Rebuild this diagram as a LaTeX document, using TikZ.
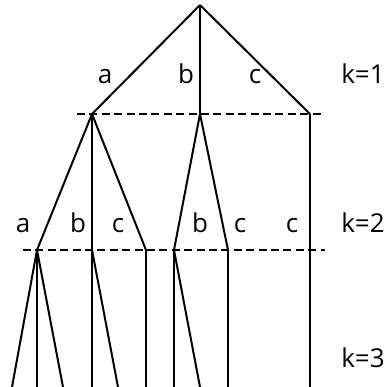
\documentclass[tikz,border=0pt]{standalone}
\usepackage{fontspec}
\setmainfont{Open Sans}
\usetikzlibrary{positioning,calc}

\begin{document}
\begin{tikzpicture}[x=0.5pt,y=-0.5pt,
    branch/.style={draw=black,line width=1pt},
    level/.style={draw=black,line width=1.4pt,dash pattern=on 4pt off 2.2pt},
    lab/.style={font=\fontsize{13}{15}\selectfont,inner sep=0pt,anchor=base}
  ]
    \useasboundingbox (0,0) rectangle (387,387);

    % nodes of the tree
    \coordinate (r) at (200,5);
    \coordinate (a) at (92,114);
    \coordinate (b) at (200,114);
    \coordinate (c) at (310,114);
    \coordinate (aa) at (37,250);
    \coordinate (ab) at (92,250);
    \coordinate (ac) at (146,250);
    \coordinate (bb) at (174,250);
    \coordinate (bc) at (228,250);
    \coordinate (cc) at (310,250);
    \foreach \n/\x in {1/12,2/37,3/63,4/92,5/118,6/146,7/174,8/200,9/228,10/310} {
      \coordinate (e\n) at (\x,387);
    }

    % level separators
    \draw[level] (77,114) coordinate (d1) -- (323,114) coordinate (d2);
    \draw[level] (23,250) coordinate (d3) -- (325,250) coordinate (d4);

    \foreach \p/\q in {r/a,r/b,r/c,a/aa,a/ab,a/ac,b/bb,b/bc,c/cc,
                       aa/e1,aa/e2,aa/e3,ab/e4,ab/e5,ac/e6,bb/e7,bb/e8,bc/e9,cc/e10} {
      \draw[branch] (\p) -- (\q);
    }

    \node[lab] (la) at (105,83) {a};
    \node[lab] (lb) at (186,83) {b};
    \node[lab] (lc) at (255,83) {c};
    \node[lab] (k1) at (363,83) {k=1};

    \node[lab] (laa) at (23,232) {a};
    \node[lab] (lab) at (78,232) {b};
    \node[lab] (lac) at (118,232) {c};
    \node[lab] (lbb) at (200,232) {b};
    \node[lab] (lbc) at (240,232) {c};
    \node[lab] (lcc) at (292,232) {c};
    \node[lab] (k2) at (363,232) {k=2};
    \node[lab] (k3) at (363,367) {k=3};
  \end{tikzpicture}
\end{document}
